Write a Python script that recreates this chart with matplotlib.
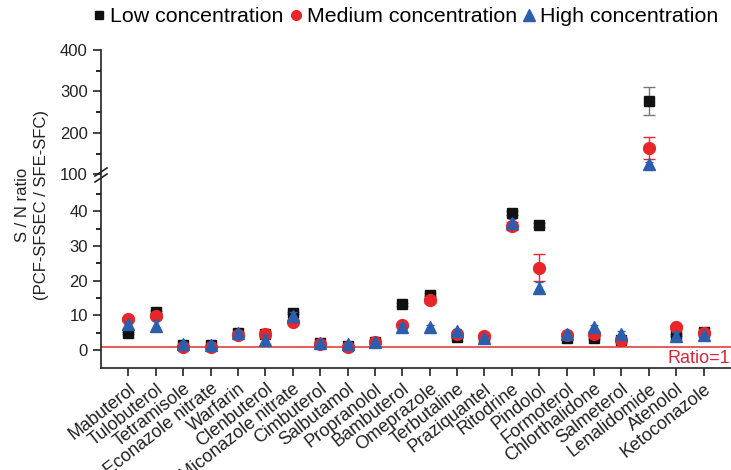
import numpy as np
import matplotlib
matplotlib.use("Agg")
import matplotlib.pyplot as plt
from matplotlib.lines import Line2D

plt.rcParams['font.family'] = ['Liberation Sans', 'DejaVu Sans']

drugs = ["Mabuterol", "Tulobuterol", "Tetramisole", "Econazole nitrate", "Warfarin",
         "Clenbuterol", "Miconazole nitrate", "Cimbuterol", "Salbutamol", "Propranolol",
         "Bambuterol", "Omeprazole", "Terbutaline", "Praziquantel", "Ritodrine",
         "Pindolol", "Formoterol", "Chlorthalidone", "Salmeterol", "Lenalidomide",
         "Atenolol", "Ketoconazole"]

low = [4.9, 11.0, 1.3, 1.3, 4.9, 4.6, 10.7, 2.0, 1.2, 2.3, 13.2, 16.0, 3.8, 3.6, 39.5,
       36.0, 3.5, 3.5, 2.8, 277, 4.4, 5.2]
low_err = [0.3, 0.4, 0.2, 0.2, 0.3, 0.3, 0.4, 0.2, 0.2, 0.2, 0.4, 0.5, 0.3, 0.3, 0.6,
           0.6, 0.3, 0.3, 0.3, 34, 0.3, 0.3]
med = [9.0, 9.9, 0.9, 1.0, 4.2, 4.5, 8.2, 1.8, 0.9, 2.2, 7.2, 14.3, 4.5, 4.0, 35.7,
       23.8, 4.3, 4.6, 3.0, 163, 6.7, 4.8]
med_err = [0.5, 0.6, 0.2, 0.2, 0.4, 0.4, 0.5, 0.2, 0.2, 0.2, 0.5, 0.6, 0.4, 0.4, 1.2,
           4.0, 0.4, 0.4, 0.4, 27, 0.5, 0.4]
high = [7.5, 7.0, 1.6, 1.5, 5.0, 2.8, 9.9, 2.0, 1.6, 2.4, 6.6, 6.7, 5.4, 3.4, 36.8,
        18.0, 4.6, 6.7, 4.7, 124, 4.0, 4.2]
high_err = [1.0, 1.6, 0.8, 0.7, 0.6, 1.5, 1.0, 0.4, 0.6, 0.3, 0.8, 0.6, 0.7, 0.6, 1.0,
            1.5, 0.6, 0.6, 0.7, 6, 1.2, 0.8]

major_ticks = [0, 10, 20, 30, 40, 100, 200, 300, 400]
minor_ticks = [5, 15, 25, 35, 45, 150, 250, 350]

# broken-axis scale: linear below 45, compressed above 100
L, G = 45.0, 50.7
K = 0.1197


def fwd(v):
    v = np.asarray(v, dtype=float)
    return np.where(v <= L, v,
                    np.where(v <= 100, L + (v - L) * (G - L) / (100 - L),
                             G + (v - 100) * K))


def inv(u):
    u = np.asarray(u, dtype=float)
    return np.where(u <= L, u,
                    np.where(u <= G, L + (u - L) * (100 - L) / (G - L),
                             100 + (u - G) / K))


W, H = 731, 470
fig = plt.figure(figsize=(W / 100, H / 100), dpi=100)
ax = fig.add_axes([101 / W, 1 - 368 / H, 1 - 101 / W, (368 - 50) / H])
ax.set_yscale('function', functions=(fwd, inv))

x = np.arange(len(drugs))
black = '#111111'
red = '#e8262a'
blue = '#2b5fae'

ax.errorbar(x, low, yerr=low_err, fmt='s', color=black, ms=7.5, ecolor='#777777',
            elinewidth=1, capsize=4, zorder=3)
ax.errorbar(x, med, yerr=med_err, fmt='o', color=red, ms=8.5, ecolor=red,
            elinewidth=1, capsize=4, zorder=4)
ax.errorbar(x, high, yerr=high_err, fmt='^', color=blue, ms=8.5, ecolor=blue,
            elinewidth=1, capsize=3, zorder=5)

ax.axhline(1, color='#e03030', lw=1.1, zorder=2)
ax.text(21.98, 0.0, "Ratio=1", color='#d9263a', fontsize=13, ha='right', va='top')

ax.set_xlim(-1, 22)
ax.set_ylim(-5.2, 400)
ax.set_yticks(major_ticks)
ax.set_yticks(minor_ticks, minor=True)
ax.tick_params(axis='y', labelsize=12, length=6, width=1.2, direction='out', colors='#222222')
ax.tick_params(axis='y', which='minor', length=3.5, width=1.2)
ax.set_xticks(x)
ax.set_xticklabels(drugs, rotation=38, ha='right', va='top', rotation_mode='anchor',
                   fontsize=13)
ax.tick_params(axis='x', length=6, width=1.2, direction='out', colors='#222222', pad=3)

for s in ['top', 'right']:
    ax.spines[s].set_visible(False)
for s in ['left', 'bottom']:
    ax.spines[s].set_linewidth(1.2)
    ax.spines[s].set_color('#222222')

# break marks on y axis
yp = 1 - 175 / H
for off in (-3, 3):
    fig.add_artist(Line2D([(101 - 6) / W, (101 + 6) / W],
                          [yp + (off - 4) / H, yp + (off + 4) / H],
                          color='#222222', lw=1.2))

fig.text(0.044, 1 - 205 / H, "S / N ratio\n(PCF-SFSEC / SFE-SFC)", rotation=90,
         ha='center', va='center', fontsize=12, linespacing=1.3, color='#222222')

handles = [Line2D([], [], ls='none', marker='s', color=black, ms=6),
           Line2D([], [], ls='none', marker='o', color=red, ms=7),
           Line2D([], [], ls='none', marker='^', color=blue, ms=8)]
fig.legend(handles, ["Low concentration", "Medium concentration", "High concentration"],
           loc='center', bbox_to_anchor=(406 / W, 1 - 17 / H), ncol=3, frameon=False,
           fontsize=15.4, handlelength=0.5, handletextpad=0.25, columnspacing=0.35,
           borderpad=0, borderaxespad=0)

fig.savefig("out.png", dpi=100)
